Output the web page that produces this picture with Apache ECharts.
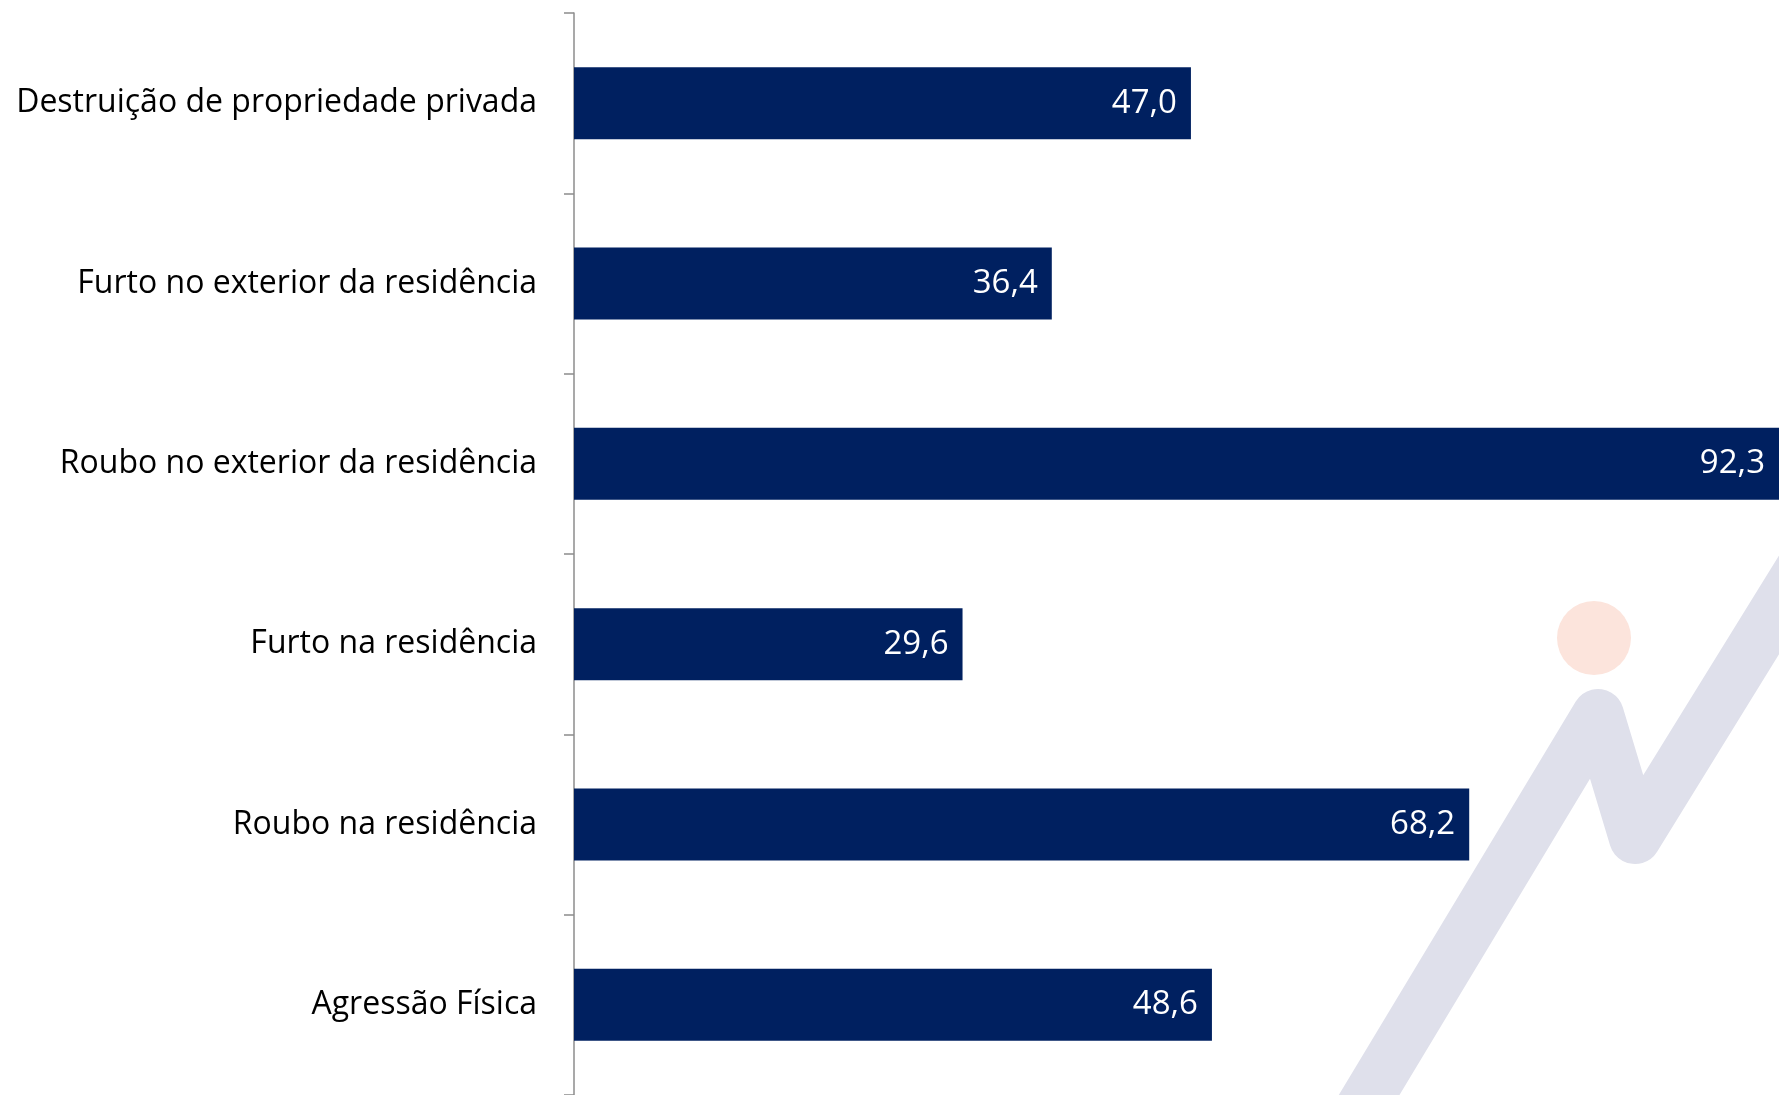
<!DOCTYPE html>
<html>
<head>
<meta charset="utf-8">
<script src="https://cdn.jsdelivr.net/npm/echarts@6/dist/echarts.min.js"></script>
<style>
  html, body { margin: 0; padding: 0; background: #ffffff; }
  #chart { width: 1779px; height: 1095px; }
</style>
</head>
<body>
<div id="chart"></div>
<script>
const categories = [
  'Destruição de propriedade privada',
  'Furto no exterior da residência',
  'Roubo no exterior da residência',
  'Furto na residência',
  'Roubo na residência',
  'Agressão Física'
];
const values = [47.0, 36.4, 92.3, 29.6, 68.2, 48.6];

const chart = echarts.init(document.getElementById('chart'), null, { renderer: 'canvas' });

const option = {
  backgroundColor: '#ffffff',
  animation: false,
  graphic: [
    {
      type: 'polyline',
      z: 0,
      silent: true,
      shape: { points: [[1336, 1150], [1598, 715], [1635, 838], [1900, 409]] },
      style: { stroke: '#dfe0eb', lineWidth: 52, lineJoin: 'round', lineCap: 'round', fill: null }
    },
    {
      type: 'circle',
      z: 0,
      silent: true,
      shape: { cx: 1594, cy: 638, r: 37 },
      style: { fill: '#fce4dc' }
    }
  ],
  grid: { left: 574, top: 13, right: 0, height: 1085, containLabel: false },
  xAxis: {
    type: 'value', min: 0, max: 91.8, show: false,
    splitLine: { show: false }
  },
  yAxis: {
    type: 'category',
    inverse: true,
    data: categories,
    axisLine: { show: true, lineStyle: { color: '#8c8c8c', width: 1.5 } },
    axisTick: { show: true, length: 10, alignWithLabel: false, lineStyle: { color: '#8c8c8c', width: 1.5 } },
    axisLabel: {
      margin: 37,
      color: '#000000',
      fontFamily: 'Open Sans',
      fontSize: 32,
      padding: [5, 0, 0, 0]
    },
    splitLine: { show: false }
  },
  series: [{
    type: 'bar',
    data: values,
    barWidth: 72,
    z: 2,
    itemStyle: { color: '#002060' },
    label: {
      show: true,
      position: 'insideRight',
      distance: 14,
      color: '#ffffff',
      fontFamily: 'Open Sans',
      fontSize: 33,
      padding: [5, 0, 0, 0],
      formatter: function (p) { return p.value.toFixed(1).replace('.', ','); }
    }
  }]
};
chart.setOption(option);
</script>
</body>
</html>
